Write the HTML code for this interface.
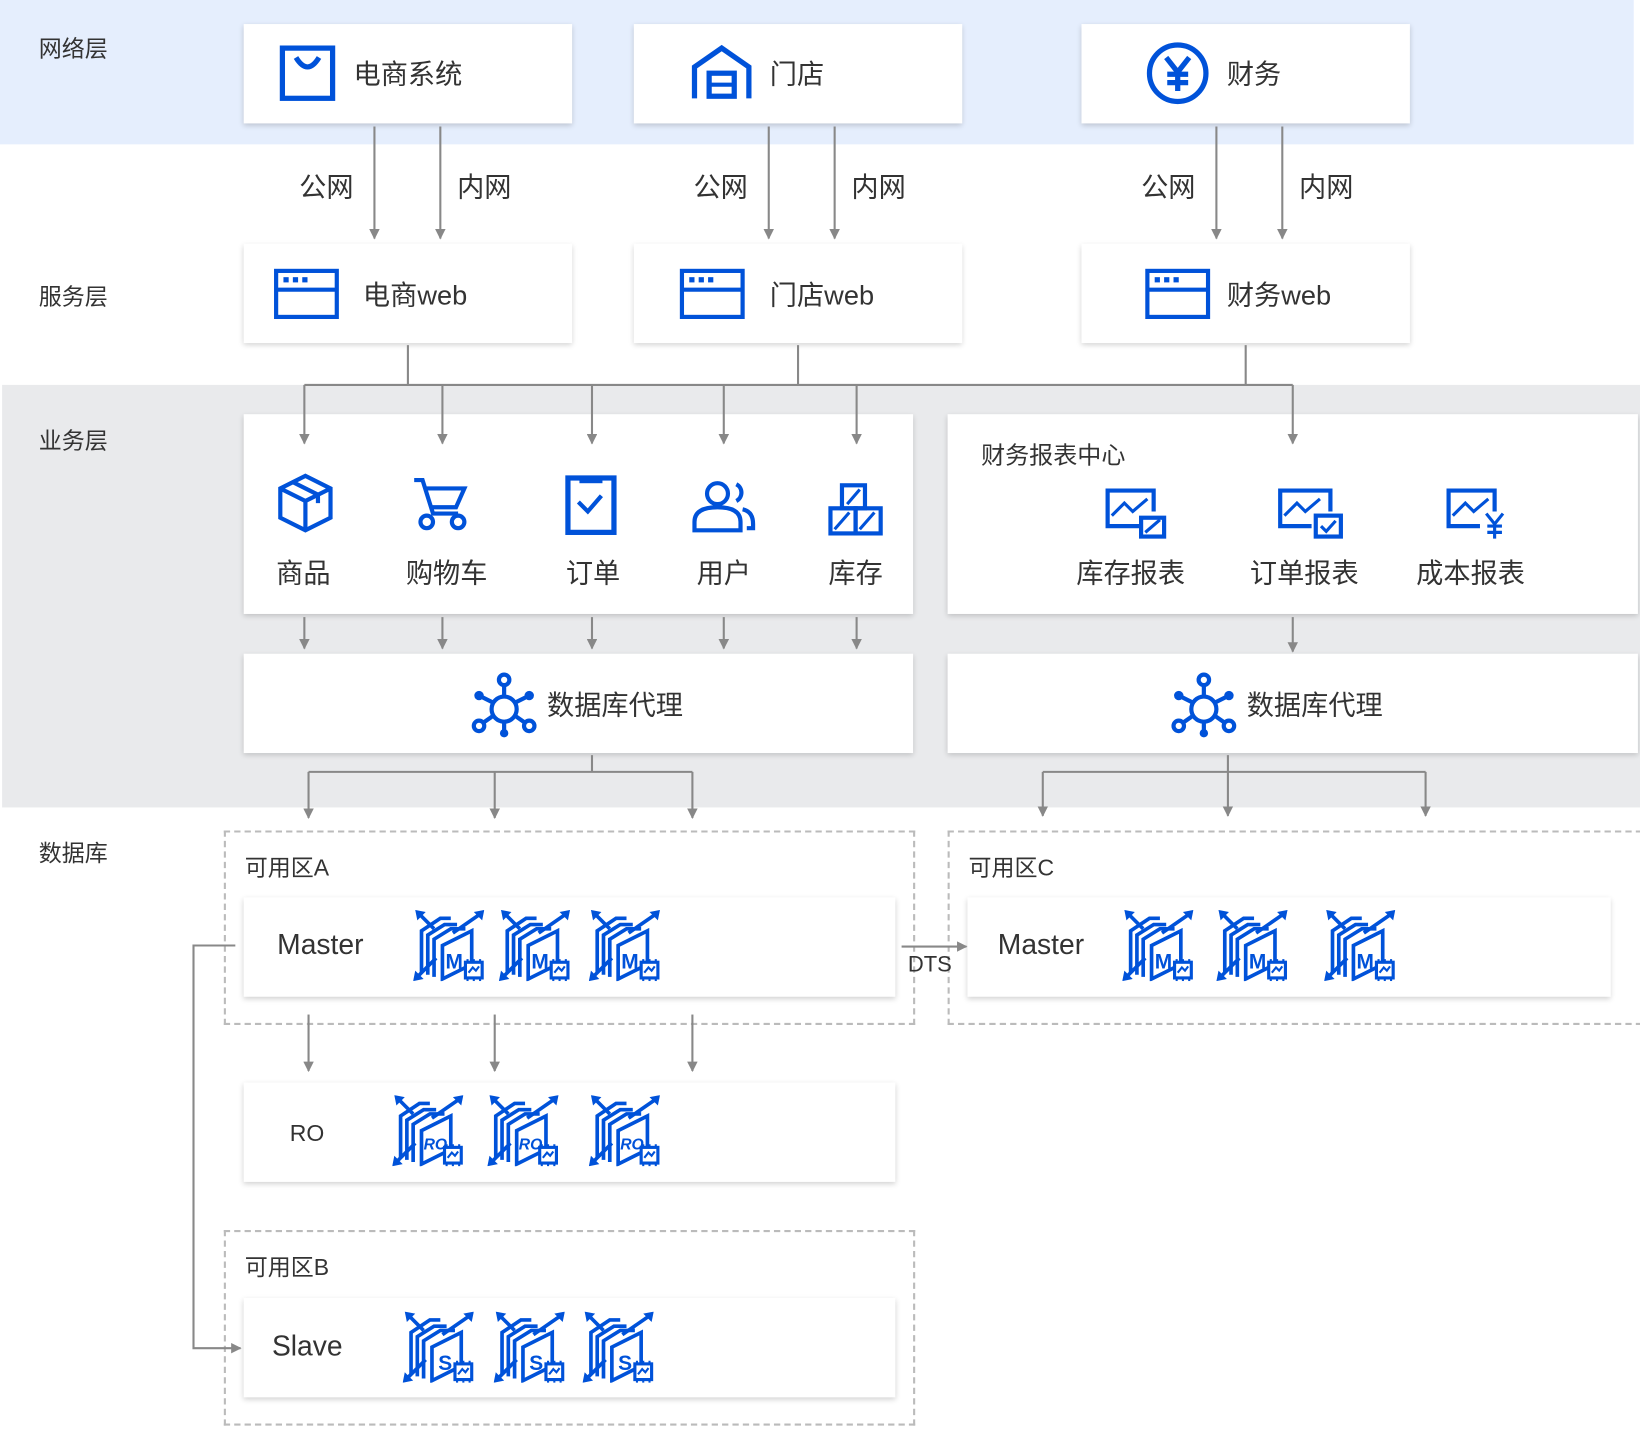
<!DOCTYPE html>
<html><head><meta charset="utf-8">
<style>
html,body{margin:0;padding:0;background:#fff;}
body{width:1640px;height:1442px;overflow:hidden;position:relative;font-family:"Liberation Sans","Noto Sans CJK SC",sans-serif;color:#333;}
#w{position:absolute;left:0;top:0;width:1568px;height:1379px;transform:scale(1.04592);transform-origin:0 0;}
.a{position:absolute;}
.box{position:absolute;background:#fff;box-shadow:0 2px 5px rgba(0,0,0,0.18);}
.lay{position:absolute;left:37px;font-size:22px;color:#333;}
.t{position:absolute;font-size:26px;color:#333;white-space:nowrap;}
.s{position:absolute;font-size:26px;color:#333;white-space:nowrap;}
.z{position:absolute;border:2px dashed #bbb;}
svg{position:absolute;overflow:visible;}
</style></head><body><div id="w">
<div class="a" style="left:0;top:0;width:1562px;height:138px;background:#e5eefd"></div>
<div class="a" style="left:2px;top:368px;width:1566px;height:404px;background:#e9eaec"></div>

<div class="lay" style="top:29px">网络层</div>
<div class="lay" style="top:266px">服务层</div>
<div class="lay" style="top:404px">业务层</div>
<div class="lay" style="top:798px">数据库</div>

<!-- top boxes -->
<div class="box" style="left:233px;top:23px;width:314px;height:95px"></div>
<div class="box" style="left:606px;top:23px;width:314px;height:95px"></div>
<div class="box" style="left:1034px;top:23px;width:314px;height:95px"></div>
<svg style="left:267px;top:43px" width="54" height="54" viewBox="0 0 54 54"><rect x="3" y="3" width="48" height="48" fill="none" stroke="#0052d9" stroke-width="5"/><path d="M16 12 Q27 30 38 12" fill="none" stroke="#0052d9" stroke-width="5"/></svg>
<div class="t" style="left:338px;top:51px">电商系统</div>
<svg style="left:660px;top:42px" width="60" height="54" viewBox="0 0 60 54"><path d="M4 52 V22 L30 4 L56 22 V52" fill="none" stroke="#0052d9" stroke-width="5"/><rect x="18" y="28" width="24" height="22" fill="none" stroke="#0052d9" stroke-width="5"/><line x1="18" y1="39" x2="42" y2="39" stroke="#0052d9" stroke-width="4"/></svg>
<div class="t" style="left:736px;top:51px">门店</div>
<svg style="left:1095px;top:39px" width="62" height="62" viewBox="0 0 62 62"><circle cx="31" cy="31" r="27" fill="none" stroke="#0052d9" stroke-width="5"/><path d="M20 16 L31 30 L42 16 M31 30 V48 M21 32 H41 M21 40 H41" fill="none" stroke="#0052d9" stroke-width="5"/></svg>
<div class="t" style="left:1173px;top:51px">财务</div>

<!-- service boxes -->
<div class="box" style="left:233px;top:233px;width:314px;height:95px"></div>
<div class="box" style="left:606px;top:233px;width:314px;height:95px"></div>
<div class="box" style="left:1034px;top:233px;width:314px;height:95px"></div>
<svg style="left:262px;top:257px" width="62" height="48" viewBox="0 0 62 48"><rect x="2" y="2" width="58" height="44" fill="none" stroke="#0052d9" stroke-width="4"/><line x1="2" y1="20" x2="60" y2="20" stroke="#0052d9" stroke-width="4"/><rect x="9" y="8" width="5" height="5" fill="#0052d9"/><rect x="18" y="8" width="5" height="5" fill="#0052d9"/><rect x="27" y="8" width="5" height="5" fill="#0052d9"/></svg>
<div class="t" style="left:347px;top:262px">电商web</div>
<svg style="left:650px;top:257px" width="62" height="48" viewBox="0 0 62 48"><rect x="2" y="2" width="58" height="44" fill="none" stroke="#0052d9" stroke-width="4"/><line x1="2" y1="20" x2="60" y2="20" stroke="#0052d9" stroke-width="4"/><rect x="9" y="8" width="5" height="5" fill="#0052d9"/><rect x="18" y="8" width="5" height="5" fill="#0052d9"/><rect x="27" y="8" width="5" height="5" fill="#0052d9"/></svg>
<div class="t" style="left:736px;top:262px">门店web</div>
<svg style="left:1095px;top:257px" width="62" height="48" viewBox="0 0 62 48"><rect x="2" y="2" width="58" height="44" fill="none" stroke="#0052d9" stroke-width="4"/><line x1="2" y1="20" x2="60" y2="20" stroke="#0052d9" stroke-width="4"/><rect x="9" y="8" width="5" height="5" fill="#0052d9"/><rect x="18" y="8" width="5" height="5" fill="#0052d9"/><rect x="27" y="8" width="5" height="5" fill="#0052d9"/></svg>
<div class="t" style="left:1173px;top:262px">财务web</div>

<div class="s" style="left:286px;top:159px">公网</div><div class="s" style="left:437px;top:159px">内网</div>
<div class="s" style="left:663px;top:159px">公网</div><div class="s" style="left:814px;top:159px">内网</div>
<div class="s" style="left:1091px;top:159px">公网</div><div class="s" style="left:1242px;top:159px">内网</div>

<!-- business -->
<div class="box" style="left:233px;top:396px;width:640px;height:191px"></div>
<div class="box" style="left:906px;top:396px;width:660px;height:191px"></div>
<svg style="left:264px;top:453px" width="56" height="56" viewBox="0 0 56 56"><path d="M28 2 L52 14 V42 L28 54 L4 42 V14 Z M4 14 L28 26 L52 14 M28 26 V54 M16 8 L40 20 V28" fill="none" stroke="#0052d9" stroke-width="4"/></svg>
<svg style="left:394px;top:455px" width="54" height="52" viewBox="0 0 54 52"><path d="M2 4 H10 L20 36 H44 M13 12 H50 L42 30 H18" fill="none" stroke="#0052d9" stroke-width="4"/><circle cx="14" cy="44" r="6" fill="none" stroke="#0052d9" stroke-width="4"/><circle cx="44" cy="44" r="6" fill="none" stroke="#0052d9" stroke-width="4"/></svg>
<svg style="left:540px;top:454px" width="52" height="58" viewBox="0 0 52 58"><rect x="3" y="3" width="44" height="52" fill="none" stroke="#0052d9" stroke-width="5"/><rect x="14" y="1" width="22" height="7" fill="#0052d9"/><path d="M13 26 L22 35 L35 20" fill="none" stroke="#0052d9" stroke-width="4"/></svg>
<svg style="left:662px;top:459px" width="62" height="50" viewBox="0 0 62 50"><circle cx="24" cy="13" r="10" fill="none" stroke="#0052d9" stroke-width="4"/><path d="M2 48 V40 Q2 26 24 26 Q46 26 46 40 V48 Z" fill="none" stroke="#0052d9" stroke-width="4"/><path d="M42 4 A9 9 0 0 1 42 20 M48 28 Q58 30 58 42 V46 H52" fill="none" stroke="#0052d9" stroke-width="4"/></svg>
<svg style="left:792px;top:462px" width="52" height="52" viewBox="0 0 52 52"><rect x="13" y="2" width="22" height="22" fill="none" stroke="#0052d9" stroke-width="4"/><rect x="2" y="24" width="24" height="24" fill="none" stroke="#0052d9" stroke-width="4"/><rect x="26" y="24" width="24" height="24" fill="none" stroke="#0052d9" stroke-width="4"/><path d="M18 20 L30 6 M6 44 L20 28 M30 44 L44 28" stroke="#0052d9" stroke-width="3"/></svg>
<div class="t" style="left:264px;top:528px">商品</div>
<div class="t" style="left:388px;top:528px">购物车</div>
<div class="t" style="left:541px;top:528px">订单</div>
<div class="t" style="left:666px;top:528px">用户</div>
<div class="t" style="left:792px;top:528px">库存</div>

<div class="a" style="left:938px;top:416px;font-size:23px">财务报表中心</div>
<svg style="left:1057px;top:467px" width="60" height="50" viewBox="0 0 60 50"><path d="M32 36 H2 V2 H46 V22" fill="none" stroke="#0052d9" stroke-width="4"/><path d="M6 26 L18 14 L26 22 L40 10" fill="none" stroke="#0052d9" stroke-width="3"/><rect x="34" y="28" width="22" height="18" fill="none" stroke="#0052d9" stroke-width="4"/><path d="M38 42 L52 30" stroke="#0052d9" stroke-width="3"/></svg>
<svg style="left:1222px;top:467px" width="64" height="50" viewBox="0 0 64 50"><path d="M32 36 H2 V2 H50 V22" fill="none" stroke="#0052d9" stroke-width="4"/><path d="M6 26 L18 14 L26 22 L40 10" fill="none" stroke="#0052d9" stroke-width="3"/><rect x="36" y="26" width="24" height="20" fill="none" stroke="#0052d9" stroke-width="4"/><path d="M41 36 L46 41 L55 31" fill="none" stroke="#0052d9" stroke-width="3"/></svg>
<svg style="left:1383px;top:467px" width="60" height="50" viewBox="0 0 60 50"><path d="M32 36 H2 V2 H46 V22" fill="none" stroke="#0052d9" stroke-width="4"/><path d="M6 26 L18 14 L26 22 L40 10" fill="none" stroke="#0052d9" stroke-width="3"/><path d="M38 24 L46 34 L54 24 M46 34 V48 M39 36 H53 M39 42 H53" fill="none" stroke="#0052d9" stroke-width="3"/></svg>
<div class="t" style="left:1029px;top:528px">库存报表</div>
<div class="t" style="left:1195px;top:528px">订单报表</div>
<div class="t" style="left:1354px;top:528px">成本报表</div>

<!-- db proxy -->
<div class="box" style="left:233px;top:625px;width:640px;height:95px"></div>
<div class="box" style="left:906px;top:625px;width:660px;height:95px"></div>
<svg style="left:450px;top:642px" width="64" height="64" viewBox="0 0 64 64"><g fill="none" stroke="#0052d9" stroke-width="4"><circle cx="32" cy="36" r="12"/><circle cx="32" cy="8" r="5"/><circle cx="8" cy="52" r="5"/><circle cx="56" cy="52" r="5"/><path d="M32 13 V24 M12 49 L22 42 M52 49 L42 42 M32 48 V58 M10 24 L22 30 M54 24 L42 30"/></g><circle cx="32" cy="59" r="4" fill="#0052d9"/><circle cx="8" cy="23" r="4.5" fill="#0052d9"/><circle cx="56" cy="23" r="4.5" fill="#0052d9"/></svg>
<div class="t" style="left:523px;top:654px">数据库代理</div>
<svg style="left:1119px;top:642px" width="64" height="64" viewBox="0 0 64 64"><g fill="none" stroke="#0052d9" stroke-width="4"><circle cx="32" cy="36" r="12"/><circle cx="32" cy="8" r="5"/><circle cx="8" cy="52" r="5"/><circle cx="56" cy="52" r="5"/><path d="M32 13 V24 M12 49 L22 42 M52 49 L42 42 M32 48 V58 M10 24 L22 30 M54 24 L42 30"/></g><circle cx="32" cy="59" r="4" fill="#0052d9"/><circle cx="8" cy="23" r="4.5" fill="#0052d9"/><circle cx="56" cy="23" r="4.5" fill="#0052d9"/></svg>
<div class="t" style="left:1192px;top:654px">数据库代理</div>

<!-- zones -->
<div class="z" style="left:214px;top:794px;width:657px;height:182px"></div>
<div class="z" style="left:906px;top:794px;width:660px;height:182px"></div>
<div class="z" style="left:214px;top:1176px;width:657px;height:183px"></div>
<div class="a" style="left:234px;top:812px;font-size:22px">可用区A</div>
<div class="a" style="left:926px;top:812px;font-size:22px">可用区C</div>
<div class="a" style="left:234px;top:1194px;font-size:22px">可用区B</div>

<div class="box" style="left:233px;top:858px;width:623px;height:95px"></div>
<div class="box" style="left:925px;top:858px;width:615px;height:95px"></div>
<div class="box" style="left:233px;top:1035px;width:623px;height:95px"></div>
<div class="box" style="left:233px;top:1241px;width:623px;height:95px"></div>
<div class="t" style="left:265px;top:888px;font-size:27px">Master</div>
<div class="t" style="left:954px;top:888px;font-size:27px">Master</div>
<div class="a" style="left:277px;top:1071px;font-size:22px">RO</div>
<div class="t" style="left:260px;top:1272px;font-size:27px">Slave</div>
<div class="a" style="left:868px;top:911px;font-size:21px">DTS</div>

<!-- db icons -->
<svg width="0" height="0" style="position:absolute"><defs><symbol id="db" viewBox="0 0 68 68"><g fill="none" stroke="#0052d9" stroke-width="3.5"><path d="M22 46 L4 64 M38 22 L64 4 M20 18 L6 4"/><path d="M8 60 V20 L26 8 H36 M14 62 V24 L30 14 H42 M20 64 V28 L36 18 H50"/><path d="M28 66 V34 L56 20 V52 Z"/></g><path d="M0 68 L2 58 L10 66 Z M68 0 L58 2 L66 10 Z M2 0 L12 2 L4 10 Z" fill="#0052d9"/><rect x="50" y="50" width="16" height="15" fill="#fff" stroke="#0052d9" stroke-width="3"/><path d="M53 60 L57 55 L60 58 L63 54" fill="none" stroke="#0052d9" stroke-width="2"/><path d="M52 47 V50 M58 47 V50 M64 47 V50 M52 65 V68 M58 65 V68 M64 65 V68" stroke="#0052d9" stroke-width="2"/></symbol></defs></svg>

<svg style="left:395px;top:870px" width="68" height="68"><use href="#db"/><text x="31" y="56" font-size="20" font-weight="bold" fill="#0052d9" font-family="Liberation Sans">M</text></svg>
<svg style="left:477px;top:870px" width="68" height="68"><use href="#db"/><text x="31" y="56" font-size="20" font-weight="bold" fill="#0052d9" font-family="Liberation Sans">M</text></svg>
<svg style="left:563px;top:870px" width="68" height="68"><use href="#db"/><text x="31" y="56" font-size="20" font-weight="bold" fill="#0052d9" font-family="Liberation Sans">M</text></svg>
<svg style="left:1073px;top:870px" width="68" height="68"><use href="#db"/><text x="31" y="56" font-size="20" font-weight="bold" fill="#0052d9" font-family="Liberation Sans">M</text></svg>
<svg style="left:1163px;top:870px" width="68" height="68"><use href="#db"/><text x="31" y="56" font-size="20" font-weight="bold" fill="#0052d9" font-family="Liberation Sans">M</text></svg>
<svg style="left:1266px;top:870px" width="68" height="68"><use href="#db"/><text x="31" y="56" font-size="20" font-weight="bold" fill="#0052d9" font-family="Liberation Sans">M</text></svg>
<svg style="left:375px;top:1047px" width="68" height="68"><use href="#db"/><text x="30" y="52" font-size="15" font-weight="bold" font-style="italic" fill="#0052d9" font-family="Liberation Sans">RO</text></svg>
<svg style="left:466px;top:1047px" width="68" height="68"><use href="#db"/><text x="30" y="52" font-size="15" font-weight="bold" font-style="italic" fill="#0052d9" font-family="Liberation Sans">RO</text></svg>
<svg style="left:563px;top:1047px" width="68" height="68"><use href="#db"/><text x="30" y="52" font-size="15" font-weight="bold" font-style="italic" fill="#0052d9" font-family="Liberation Sans">RO</text></svg>
<svg style="left:385px;top:1254px" width="68" height="68"><use href="#db"/><text x="34" y="56" font-size="20" font-weight="bold" fill="#0052d9" font-family="Liberation Sans">S</text></svg>
<svg style="left:472px;top:1254px" width="68" height="68"><use href="#db"/><text x="34" y="56" font-size="20" font-weight="bold" fill="#0052d9" font-family="Liberation Sans">S</text></svg>
<svg style="left:557px;top:1254px" width="68" height="68"><use href="#db"/><text x="34" y="56" font-size="20" font-weight="bold" fill="#0052d9" font-family="Liberation Sans">S</text></svg>

<!-- connectors -->
<svg style="left:0;top:0" width="1568" height="1379">
<defs><marker id="ar" viewBox="0 0 10 10" refX="9" refY="5" markerWidth="10" markerHeight="10" markerUnits="userSpaceOnUse" orient="auto"><path d="M0 0 L10 5 L0 10 Z" fill="#888"/></marker></defs>
<g stroke="#888" stroke-width="2" fill="none">
<path d="M390 330 V368 M763 330 V368 M1191 330 V368 M291 368 H1236"/>
<path d="M566 722 V738 M295 738 H662 M1174 722 V738 M997 738 H1363"/>
<path d="M225 904 H185 V1289 H230" marker-end="url(#ar)"/>
<path d="M862 905 H924" marker-end="url(#ar)"/>
</g>
<g stroke="#888" stroke-width="2" marker-end="url(#ar)">
<line x1="358" y1="121" x2="358" y2="228"/><line x1="421" y1="121" x2="421" y2="228"/>
<line x1="735" y1="121" x2="735" y2="228"/><line x1="798" y1="121" x2="798" y2="228"/>
<line x1="1163" y1="121" x2="1163" y2="228"/><line x1="1226" y1="121" x2="1226" y2="228"/>
<line x1="291" y1="368" x2="291" y2="424"/><line x1="423" y1="368" x2="423" y2="424"/>
<line x1="566" y1="368" x2="566" y2="424"/><line x1="692" y1="368" x2="692" y2="424"/>
<line x1="819" y1="368" x2="819" y2="424"/><line x1="1236" y1="368" x2="1236" y2="424"/>
<line x1="291" y1="590" x2="291" y2="620"/><line x1="423" y1="590" x2="423" y2="620"/>
<line x1="566" y1="590" x2="566" y2="620"/><line x1="692" y1="590" x2="692" y2="620"/>
<line x1="819" y1="590" x2="819" y2="620"/><line x1="1236" y1="590" x2="1236" y2="623"/>
<line x1="295" y1="738" x2="295" y2="782"/><line x1="473" y1="738" x2="473" y2="782"/>
<line x1="662" y1="738" x2="662" y2="782"/><line x1="997" y1="738" x2="997" y2="780"/>
<line x1="1174" y1="738" x2="1174" y2="780"/><line x1="1363" y1="738" x2="1363" y2="780"/>
<line x1="295" y1="970" x2="295" y2="1024"/><line x1="473" y1="970" x2="473" y2="1024"/>
<line x1="662" y1="970" x2="662" y2="1024"/>
</g></svg>
</div></body></html>
